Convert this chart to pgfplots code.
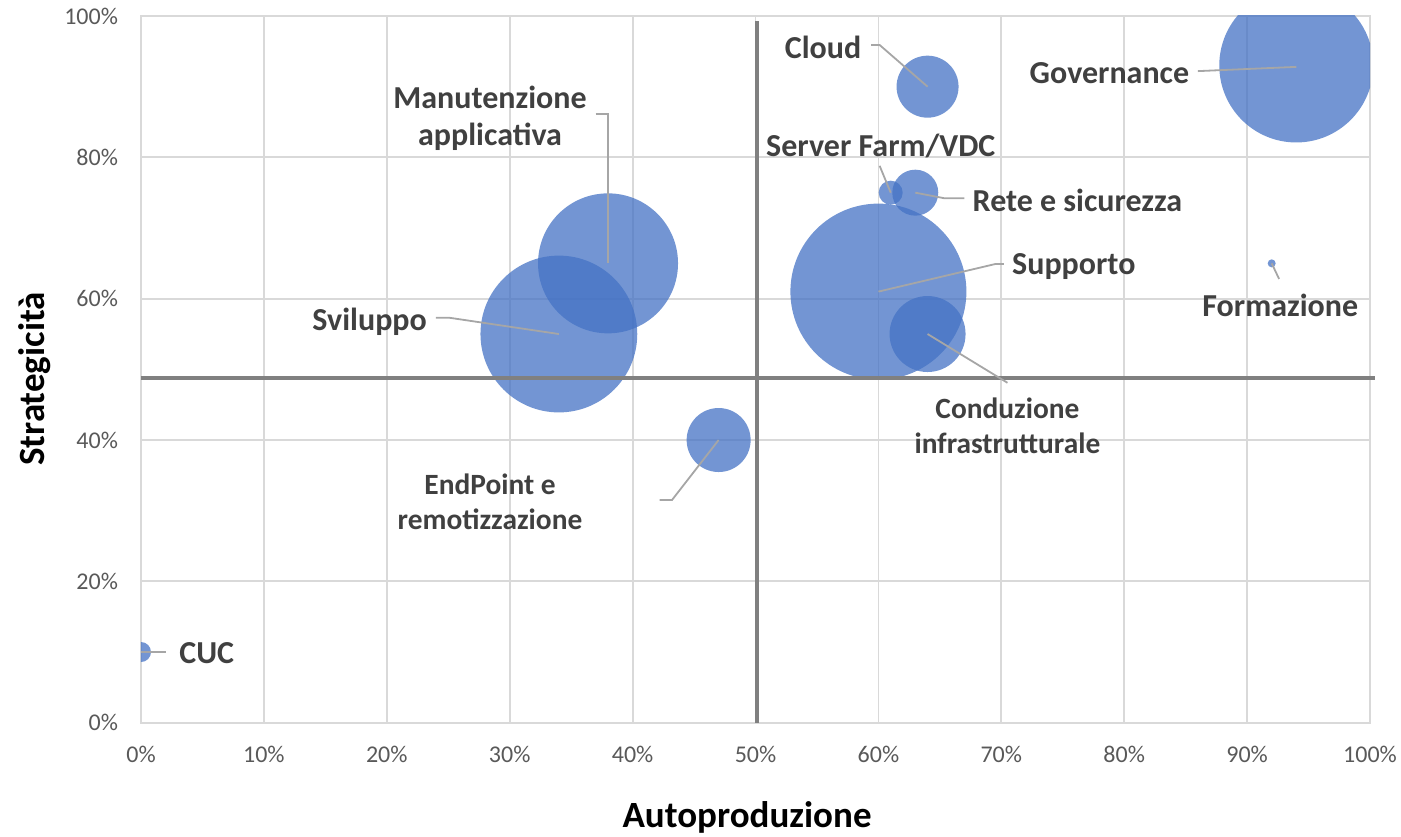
\documentclass[border=0pt]{standalone}
\usepackage{pgfplots}
\pgfplotsset{compat=1.18}
\usepackage{fontspec}
\setmainfont{Carlito}
\definecolor{bubble}{HTML}{4472C4}
\definecolor{gridc}{HTML}{D9D9D9}
\definecolor{thickc}{HTML}{808080}
\definecolor{leadc}{HTML}{A6A6A6}
\definecolor{labc}{HTML}{404040}
\definecolor{tickc}{HTML}{595959}

\begin{document}
\begin{tikzpicture}[
  lbl/.style={font=\fontsize{16}{18.5}\selectfont\bfseries, text=labc, align=center},
  slbl/.style={font=\fontsize{14.7}{17.5}\selectfont\bfseries, text=labc, align=center},
  bub/.style={only marks, mark=*, mark size=#1, color=bubble,
    mark options={draw opacity=0, fill=bubble, fill opacity=0.75}},
]
\begin{axis}[
  at={(0,0)}, anchor=south west,
  scale only axis, width=614.5pt, height=353.35pt,
  xmin=0, xmax=100, ymin=0, ymax=100,
  xtick={0,10,...,100}, ytick={0,20,...,100},
  xticklabel={\pgfmathprintnumber{\tick}\%},
  yticklabel={\pgfmathprintnumber{\tick}\%},
  /pgf/number format/assume math mode=true,
  ticklabel style={font=\fontsize{12}{14}\selectfont, text=tickc},
  xticklabel style={yshift=-8pt},
  yticklabel style={xshift=-8pt},
  major tick length=0pt,
  grid=major,
  major grid style={draw=gridc, line width=0.9pt},
  axis line style={draw=gridc, line width=0.9pt},
  clip mode=individual,
  clip marker paths=true,
]
% bubbles: (x, y), radius in pt
\addplot[bub=5]    coordinates {(0,10)};   % CUC
\addplot[bub=39.2] coordinates {(34,55)};  % Sviluppo
\addplot[bub=35]   coordinates {(38,65)};  % Manutenzione applicativa
\addplot[bub=16]   coordinates {(47,40)};  % EndPoint e remotizzazione
\addplot[bub=44]   coordinates {(60,61)};  % Supporto
\addplot[bub=19]   coordinates {(64,55)};  % Conduzione infrastrutturale
\addplot[bub=6]    coordinates {(61,75)};  % Server Farm/VDC
\addplot[bub=11.5] coordinates {(63,75)};  % Rete e sicurezza
\addplot[bub=15.5] coordinates {(64,90)};  % Cloud
\addplot[bub=38.5] coordinates {(94,93)};  % Governance
\addplot[bub=2]    coordinates {(92,65)};  % Formazione

% quadrant lines
\draw[thickc, line width=2pt] (axis cs:0,48.8) -- (axis cs:100.4,48.8);
\draw[thickc, line width=2pt] (axis cs:50.1,0) -- (axis cs:50.1,99.3);

% leader lines
\begin{scope}[leadc, line width=0.9pt]
\draw (axis cs:59.4,95.9) -- (axis cs:60.1,95.9) -- (axis cs:64,90);
\draw (axis cs:86.0,92.2) -- (axis cs:94,92.8);
\draw (axis cs:37.0,86.1) -- (axis cs:38,86.1) -- (axis cs:38,65);
\draw (axis cs:60.1,78.8) -- (axis cs:61,75);
\draw (axis cs:67.0,74.2) -- (axis cs:65.4,74.2) -- (axis cs:63,75);
\draw (axis cs:70.2,64.9) -- (axis cs:69.5,64.9) -- (axis cs:60,61);
\draw (axis cs:92.6,62.8) -- (axis cs:92,65);
\draw (axis cs:24.0,57.3) -- (axis cs:25.1,57.3) -- (axis cs:34,55);
\draw (axis cs:70.5,48.1) -- (axis cs:64,55);
\draw (axis cs:42.2,31.5) -- (axis cs:43.2,31.5) -- (axis cs:47,40);
\draw (axis cs:0,10) -- (axis cs:2.0,10);
\end{scope}

% data labels
\node[lbl] at (axis cs:55.5,95.6) {Cloud};
\node[lbl] at (axis cs:78.8,91.9) {Governance};
\node[lbl] at (axis cs:28.4,85.5) {Manutenzione\\applicativa};
\node[lbl] at (axis cs:60.2,81.6) {Server Farm/VDC};
\node[lbl] at (axis cs:76.2,73.9) {Rete e sicurezza};
\node[lbl] at (axis cs:75.9,64.5) {Supporto};
\node[lbl] at (axis cs:92.7,59.1) {Formazione};
\node[lbl] at (axis cs:18.6,56.8) {Sviluppo};
\node[slbl] at (axis cs:70.5,42.05) {Conduzione\\infrastrutturale};
\node[slbl] at (axis cs:28.4,31.2) {EndPoint e\\remotizzazione};
\node[lbl] at (axis cs:5.35,9.9) {CUC};
\end{axis}
\node[font=\fontsize{18.5}{20}\selectfont\bfseries] at (303pt,-47.6pt) {Autoproduzione};
\node[font=\fontsize{18.5}{20}\selectfont\bfseries, rotate=90] at (-53pt,171.9pt) {Strategicità};
\pgfresetboundingbox
\path[use as bounding box] (-70.5pt,-56.65pt) rectangle (630pt,361.35pt);
\end{tikzpicture}
\end{document}
